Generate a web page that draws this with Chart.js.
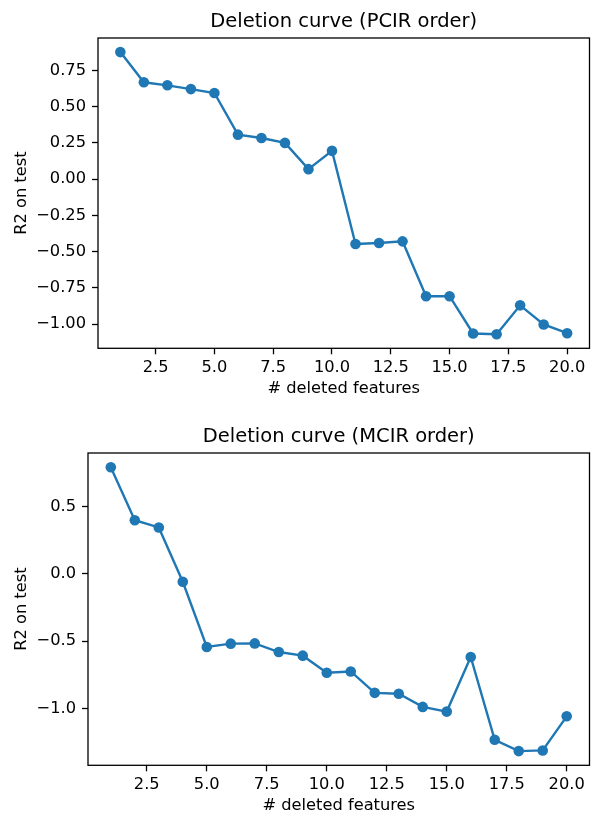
<!DOCTYPE html>
<html>
<head>
<meta charset="utf-8">
<title>Deletion curves</title>
<script src="https://cdn.jsdelivr.net/npm/chart.js@4.4.1/dist/chart.umd.min.js"></script>
<style>
  html, body { margin: 0; padding: 0; background: #fff; overflow: hidden; }
  #page { position: relative; width: 591px; height: 813px; overflow: hidden; }
  canvas { position: absolute; left: 0; }
  #pcirChart { top: 0; }
  #mcirChart { top: 415px; }
</style>
</head>
<body>
<div id="page">
  <canvas id="pcirChart" width="591" height="400"></canvas>
  <canvas id="mcirChart" width="591" height="402"></canvas>
</div>
<script>
// number of deleted features on the x axis
const deletedCounts = [1, 2, 3, 4, 5, 6, 7, 8, 9, 10, 11, 12, 13, 14, 15, 16, 17, 18, 19, 20];

// R2 on the test set after each deletion
const pcirR2 = [0.876, 0.668, 0.647, 0.621, 0.594, 0.307, 0.284, 0.250, 0.069, 0.195,
                -0.447, -0.440, -0.429, -0.807, -0.807, -1.064, -1.069, -0.870, -1.002, -1.062];
const mcirR2 = [0.790, 0.397, 0.343, -0.060, -0.544, -0.519, -0.517, -0.581, -0.608, -0.735,
                -0.725, -0.884, -0.891, -0.988, -1.023, -0.618, -1.232, -1.316, -1.311, -1.058];

// tick positions
const xTickValues = [2.5, 5, 7.5, 10, 12.5, 15, 17.5, 20];
const pcirYTicks = [-1, -0.75, -0.5, -0.25, 0, 0.25, 0.5, 0.75];
const mcirYTicks = [-1, -0.5, 0, 0.5];

const FONT = "'DejaVu Sans', sans-serif";
const BLUE = '#1f77b4';
Chart.defaults.color = '#000';
Chart.defaults.font.family = FONT;

const minus = s => s.replace('-', '\u2212');

// axes box drawn on all four sides
const frame = {
  id: 'frame',
  afterDatasetsDraw(chart) {
    const { ctx, chartArea: a } = chart;
    ctx.save();
    ctx.strokeStyle = '#000';
    ctx.lineWidth = 1.3;
    ctx.strokeRect(a.left, a.top, a.right - a.left, a.bottom - a.top);
    ctx.restore();
  }
};

function padded(values) {
  const lo = Math.min(...values), hi = Math.max(...values);
  const m = (hi - lo) * 0.05;
  return { min: lo - m, max: hi + m };
}

function makeChart(canvasId, title, values, yTicks, yWidth, decimals) {
  const yr = padded(values);
  const xr = padded(deletedCounts);
  return new Chart(document.getElementById(canvasId), {
    type: 'line',
    data: {
      labels: deletedCounts,
      datasets: [{
        data: deletedCounts.map((x, i) => ({ x: x, y: values[i] })),
        borderColor: BLUE,
        backgroundColor: BLUE,
        borderWidth: 2.4,
        pointRadius: 5.3,
        pointBorderWidth: 0,
        pointHoverRadius: 5.3,
        tension: 0,
        fill: false
      }]
    },
    options: {
      responsive: false,
      animation: false,
      devicePixelRatio: 1,
      layout: { autoPadding: false, padding: { left: 0, right: 1.5, top: 0, bottom: 0 } },
      plugins: {
        legend: { display: false },
        tooltip: { enabled: false },
        title: {
          display: true,
          text: title,
          fullSize: false,
          color: '#000',
          font: { family: FONT, size: 19.5, weight: 'normal', lineHeight: 1.2 },
          padding: { top: 10.3, bottom: 4.3 }
        }
      },
      scales: {
        x: {
          type: 'linear',
          min: xr.min,
          max: xr.max,
          afterBuildTicks: s => { s.ticks = xTickValues.map(v => ({ value: v })); },
          afterFit: s => { s.height = 51.7; s.paddingLeft = 0; s.paddingRight = 0; },
          border: { display: false },
          grid: { drawOnChartArea: false, drawTicks: true, tickLength: 6, tickWidth: 1.3, tickColor: '#000' },
          ticks: {
            padding: 4,
            maxRotation: 0,
            font: { family: FONT, size: 16.25 },
            callback: v => v.toFixed(1)
          },
          title: {
            display: true,
            text: '# deleted features',
            font: { family: FONT, size: 16.25 },
            padding: { top: 0, bottom: 1.3 }
          }
        },
        y: {
          type: 'linear',
          min: yr.min,
          max: yr.max,
          afterBuildTicks: s => { s.ticks = yTicks.map(v => ({ value: v })); },
          afterFit: s => { s.width = yWidth; s.paddingTop = 0; s.paddingBottom = 0; },
          border: { display: false },
          grid: { drawOnChartArea: false, drawTicks: true, tickLength: 6, tickWidth: 1.3, tickColor: '#000' },
          ticks: {
            padding: 6,
            font: { family: FONT, size: 16.25 },
            callback: v => minus(v.toFixed(decimals))
          },
          title: {
            display: true,
            text: 'R2 on test',
            font: { family: FONT, size: 16.25 },
            padding: { top: 12, bottom: 0 }
          }
        }
      }
    },
    plugins: [frame]
  });
}

makeChart('pcirChart', 'Deletion curve (PCIR order)', pcirR2, pcirYTicks, 98, 2);
makeChart('mcirChart', 'Deletion curve (MCIR order)', mcirR2, mcirYTicks, 88, 1);
</script>
</body>
</html>
